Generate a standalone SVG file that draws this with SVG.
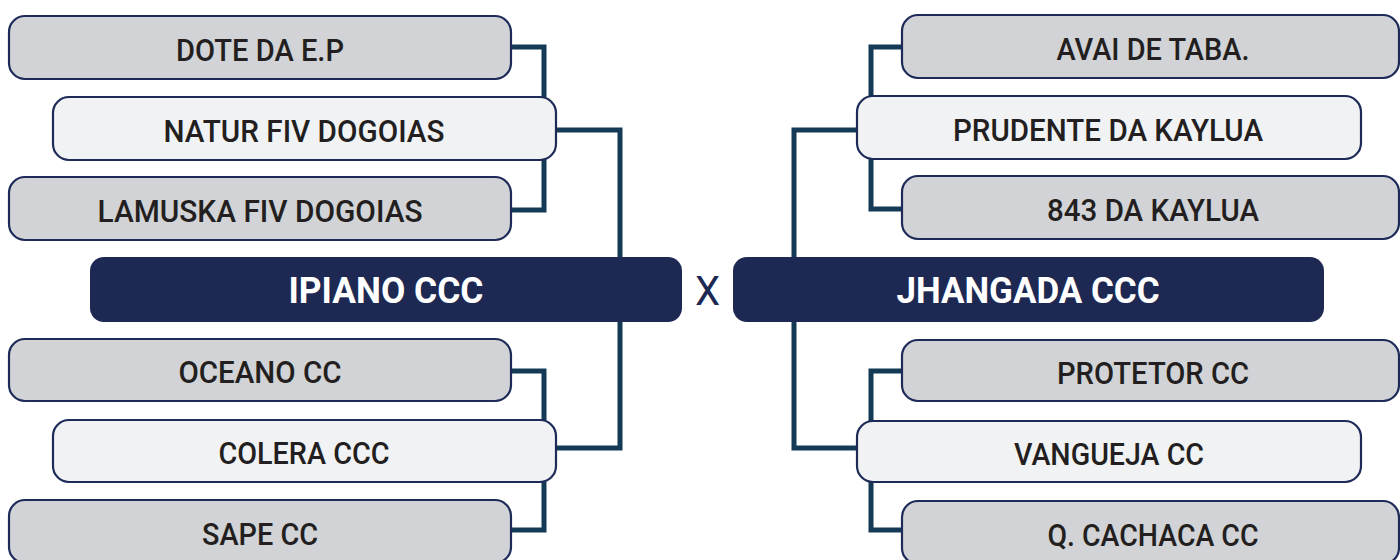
<svg xmlns="http://www.w3.org/2000/svg" width="1400" height="560" viewBox="0 0 1400 560">
<style>
.conn{fill:none;stroke:#153a55;stroke-width:5;stroke-linejoin:miter;stroke-linecap:butt}
.gray{fill:#d1d3d6;stroke:#1e2b58;stroke-width:2.2}
.light{fill:#f1f2f4;stroke:#1e2b58;stroke-width:2.2}
.dark{fill:#1d2953;stroke:none}
.lbl{font-family:Roboto,"Liberation Sans",sans-serif;font-weight:500;font-size:32px;fill:#231f20;text-anchor:middle}
.big{font-family:Roboto,"Liberation Sans",sans-serif;font-weight:700;font-size:36px;fill:#ffffff;text-anchor:middle}
.vs{font-family:Roboto,"Liberation Sans",sans-serif;font-weight:400;font-size:40px;fill:#1d2953;text-anchor:middle}
</style>
<rect width="1400" height="560" fill="#ffffff"/>
<g id="connectors">
<path class="conn" d="M511 47 H544 V97"/>
<path class="conn" d="M544 160 V210 H511"/>
<path class="conn" d="M556 130 H620 V257"/>
<path class="conn" d="M511 371 H544 V420"/>
<path class="conn" d="M544 482 V530 H511"/>
<path class="conn" d="M620 322 V448 H556"/>
<path class="conn" d="M902 47 H871 V96"/>
<path class="conn" d="M871 159 V209 H902"/>
<path class="conn" d="M857 130 H794 V257"/>
<path class="conn" d="M902 371 H871 V421"/>
<path class="conn" d="M871 482 V530 H902"/>
<path class="conn" d="M794 322 V448 H857"/>
</g>
<g id="dote"><rect class="gray" x="9" y="16" width="502" height="63" rx="16"/><text class="lbl" x="260" y="61" textLength="168" lengthAdjust="spacingAndGlyphs">DOTE DA E.P</text></g>
<g id="natur"><rect class="light" x="53" y="97" width="503" height="63" rx="16"/><text class="lbl" x="304" y="142" textLength="281" lengthAdjust="spacingAndGlyphs">NATUR FIV DOGOIAS</text></g>
<g id="lamuska"><rect class="gray" x="9" y="177" width="502" height="63" rx="16"/><text class="lbl" x="260" y="222" textLength="325" lengthAdjust="spacingAndGlyphs">LAMUSKA FIV DOGOIAS</text></g>
<g id="ipiano"><rect class="dark" x="90" y="257" width="592" height="65" rx="14"/><text class="big" x="386" y="303" textLength="195" lengthAdjust="spacingAndGlyphs">IPIANO CCC</text></g>
<g id="oceano"><rect class="gray" x="9" y="339" width="502" height="62" rx="16"/><text class="lbl" x="260" y="383" textLength="163" lengthAdjust="spacingAndGlyphs">OCEANO CC</text></g>
<g id="colera"><rect class="light" x="53" y="420" width="503" height="62" rx="16"/><text class="lbl" x="304" y="464" textLength="171" lengthAdjust="spacingAndGlyphs">COLERA CCC</text></g>
<g id="sape"><rect class="gray" x="9" y="500" width="502" height="63" rx="16"/><text class="lbl" x="260" y="545" textLength="116" lengthAdjust="spacingAndGlyphs">SAPE CC</text></g>
<g id="vs"><text class="vs" x="707.5" y="305">X</text></g>
<g id="avai"><rect class="gray" x="902" y="15" width="497" height="63" rx="16"/><text class="lbl" x="1153" y="60" textLength="193" lengthAdjust="spacingAndGlyphs">AVAI DE TABA.</text></g>
<g id="prudente"><rect class="light" x="857" y="96" width="504" height="63" rx="16"/><text class="lbl" x="1108" y="141" textLength="310" lengthAdjust="spacingAndGlyphs">PRUDENTE DA KAYLUA</text></g>
<g id="k843"><rect class="gray" x="902" y="176" width="497" height="63" rx="16"/><text class="lbl" x="1153" y="221" textLength="212" lengthAdjust="spacingAndGlyphs">843 DA KAYLUA</text></g>
<g id="jhangada"><rect class="dark" x="733" y="257" width="591" height="65" rx="14"/><text class="big" x="1028" y="303" textLength="263" lengthAdjust="spacingAndGlyphs">JHANGADA CCC</text></g>
<g id="protetor"><rect class="gray" x="902" y="340" width="497" height="61" rx="16"/><text class="lbl" x="1153" y="384" textLength="192" lengthAdjust="spacingAndGlyphs">PROTETOR CC</text></g>
<g id="vangueja"><rect class="light" x="857" y="421" width="504" height="61" rx="16"/><text class="lbl" x="1109" y="465" textLength="190" lengthAdjust="spacingAndGlyphs">VANGUEJA CC</text></g>
<g id="cachaca"><rect class="gray" x="902" y="501" width="497" height="63" rx="16"/><text class="lbl" x="1153" y="546" textLength="211" lengthAdjust="spacingAndGlyphs">Q. CACHACA CC</text></g>
</svg>
